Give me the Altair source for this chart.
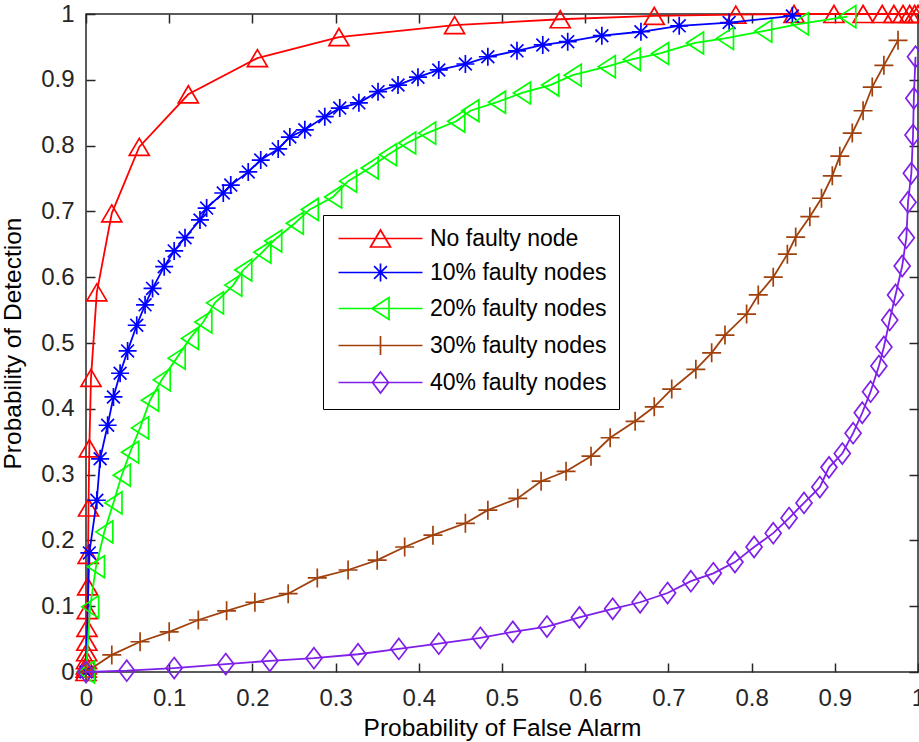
import altair as alt
import pandas as pd

# ---------------- data ----------------
series_names = ["No faulty node", "10% faulty nodes", "20% faulty nodes",
                "30% faulty nodes", "40% faulty nodes"]
series_colors = ["#FF0000", "#0000FF", "#00FF00", "#A0410D", "#7F1FE8"]

red_x = [0, 0.0002, 0.0004, 0.0006, 0.0008, 0.001, 0.0012, 0.0015, 0.002, 0.0025,
         0.003, 0.004, 0.006, 0.013, 0.031, 0.064, 0.123, 0.206, 0.304, 0.443,
         0.570, 0.683, 0.781, 0.851, 0.899, 0.934, 0.957, 0.971, 0.982, 0.990,
         0.996, 1.0]
red_y = [0, 0.005, 0.010, 0.018, 0.030, 0.046, 0.067, 0.094, 0.130, 0.178,
         0.250, 0.340, 0.447, 0.577, 0.697, 0.798, 0.878, 0.933, 0.965, 0.983,
         0.992, 0.997, 0.999, 1.0, 1.0, 1.0, 1.0, 1.0, 1.0, 1.0,
         1.0, 1.0]

blue_x = [0, 0.004, 0.013, 0.017, 0.026, 0.033, 0.041, 0.050, 0.061, 0.071,
          0.080, 0.094, 0.106, 0.119, 0.137, 0.145, 0.165, 0.174, 0.195, 0.210,
          0.231, 0.245, 0.263, 0.287, 0.305, 0.328, 0.351, 0.375, 0.399, 0.424,
          0.456, 0.483, 0.518, 0.549, 0.579, 0.620, 0.667, 0.713, 0.773, 0.849]
blue_y = [0, 0.181, 0.261, 0.324, 0.375, 0.418, 0.454, 0.488, 0.527, 0.558,
          0.583, 0.616, 0.640, 0.660, 0.687, 0.705, 0.728, 0.740, 0.760, 0.778,
          0.795, 0.813, 0.824, 0.844, 0.857, 0.865, 0.882, 0.892, 0.904, 0.915,
          0.924, 0.935, 0.944, 0.953, 0.958, 0.967, 0.973, 0.982, 0.987, 0.997]

green_x = [0, 0.005, 0.012, 0.022, 0.033, 0.043, 0.053, 0.065, 0.077, 0.091,
           0.109, 0.125, 0.141, 0.155, 0.177, 0.189, 0.212, 0.225, 0.251, 0.269,
           0.297, 0.315, 0.341, 0.363, 0.386, 0.410, 0.445, 0.462, 0.494, 0.524,
           0.558, 0.585, 0.626, 0.656, 0.690, 0.732, 0.768, 0.814, 0.858, 0.915]
green_y = [0, 0.099, 0.160, 0.213, 0.257, 0.299, 0.334, 0.371, 0.413, 0.444,
           0.477, 0.507, 0.532, 0.561, 0.588, 0.611, 0.638, 0.655, 0.682, 0.703,
           0.722, 0.746, 0.766, 0.786, 0.804, 0.819, 0.837, 0.853, 0.866, 0.880,
           0.892, 0.907, 0.920, 0.931, 0.940, 0.956, 0.963, 0.974, 0.985, 0.996]

brown_x = [0, 0.031, 0.065, 0.100, 0.135, 0.169, 0.203, 0.243, 0.278, 0.315,
           0.350, 0.383, 0.417, 0.456, 0.483, 0.519, 0.547, 0.577, 0.607, 0.630,
           0.660, 0.683, 0.704, 0.733, 0.752, 0.768, 0.794, 0.808, 0.826, 0.843,
           0.853, 0.870, 0.884, 0.897, 0.906, 0.921, 0.934, 0.945, 0.959, 0.976]
brown_y = [0, 0.026, 0.046, 0.061, 0.079, 0.093, 0.106, 0.119, 0.143, 0.155,
           0.170, 0.190, 0.208, 0.226, 0.246, 0.264, 0.290, 0.305, 0.328, 0.356,
           0.381, 0.403, 0.430, 0.460, 0.485, 0.512, 0.544, 0.573, 0.600, 0.635,
           0.661, 0.692, 0.720, 0.754, 0.784, 0.819, 0.853, 0.889, 0.922, 0.960]

purple_x = [0, 0.049, 0.106, 0.168, 0.221, 0.274, 0.327, 0.376, 0.424, 0.474,
            0.513, 0.554, 0.593, 0.633, 0.666, 0.699, 0.727, 0.754, 0.780, 0.803,
            0.826, 0.845, 0.863, 0.882, 0.893, 0.909, 0.922, 0.933, 0.943, 0.953,
            0.959, 0.966, 0.973, 0.981, 0.986, 0.988, 0.992, 0.994, 0.995, 0.997]
purple_y = [0, 0.002, 0.006, 0.012, 0.017, 0.021, 0.027, 0.035, 0.043, 0.052,
            0.061, 0.069, 0.083, 0.096, 0.106, 0.120, 0.138, 0.150, 0.167, 0.190,
            0.211, 0.234, 0.257, 0.281, 0.311, 0.332, 0.363, 0.394, 0.426, 0.465,
            0.494, 0.535, 0.573, 0.617, 0.660, 0.714, 0.758, 0.816, 0.872, 0.935]

tick_values = [0, 0.1, 0.2, 0.3, 0.4, 0.5, 0.6, 0.7, 0.8, 0.9, 1]
x_title = "Probability of False Alarm"
y_title = "Probability of Detection"

all_x = [red_x, blue_x, green_x, brown_x, purple_x]
all_y = [red_y, blue_y, green_y, brown_y, purple_y]

rows = []
for name, xs_, ys_ in zip(series_names, all_x, all_y):
    for i, (a, b) in enumerate(zip(xs_, ys_)):
        rows.append({"series": name, "idx": i, "x": a, "y": b})
df = pd.DataFrame(rows)

# ---------------- styling ----------------
W, H = 832, 658
FONT = "Liberation Sans"
AX = "#262626"
FS_TICK = 24
FS_TITLE = 24.5
FS_LEG = 23

# marker shapes (unit = 10 px with size=400)
marker_paths = [
    "M0,-0.85L1,0.85L-1,0.85Z",                                         # triangle up
    "M-0.9,0L0.9,0M0,-0.9L0,0.9M-0.64,-0.64L0.64,0.64M-0.64,0.64L0.64,-0.64",  # asterisk
    "M-0.85,0L0.85,-1.1L0.85,1.1Z",                                     # triangle left
    "M-0.95,0L0.95,0M0,-0.95L0,0.95",                                   # plus
    "M0,-1.05L0.8,0L0,1.05L-0.8,0Z",                                    # diamond
]
legend_paths = ["M-4.2,0L4.2,0" + p for p in marker_paths]

xs = alt.Scale(domain=[0, 1], nice=False, zero=False)
ys = alt.Scale(domain=[0, 1], nice=False, zero=False)

lab_x = alt.Axis(orient="bottom", values=tick_values, format="~g", ticks=False, tickSize=0,
                 domain=False, grid=False, labelPadding=14, labelFontSize=FS_TICK,
                 labelFont=FONT, labelColor=AX, labelFlush=False, title=x_title,
                 titleFont=FONT, titleFontSize=FS_TITLE, titleFontWeight="normal",
                 titleColor="#000000", titleX=W / 2, titleY=63, titleBaseline="alphabetic")
lab_y = alt.Axis(orient="left", values=tick_values, format="~g", ticks=False, tickSize=0,
                 domain=False, grid=False, labelPadding=12, labelFontSize=FS_TICK,
                 labelFont=FONT, labelColor=AX, labelFlush=False, title=y_title,
                 titleFont=FONT, titleFontSize=FS_TITLE, titleFontWeight="normal",
                 titleColor="#000000", titleAngle=270, titleX=-66, titleY=H / 2,
                 titleBaseline="alphabetic")


def tick_axis(orient):
    return alt.Axis(orient=orient, values=tick_values, offset=-9, tickSize=9, ticks=True,
                    labels=False, domain=False, grid=False, title=None,
                    tickColor=AX, tickWidth=1.5)


axis_plan = {
    (0, "line"): (lab_x, lab_y),
    (0, "point"): (tick_axis("bottom"), tick_axis("left")),
    (1, "line"): (tick_axis("top"), tick_axis("right")),
}

base = alt.Chart(df)
layers = []
for k, name in enumerate(series_names):
    sub = base.transform_filter(alt.datum.series == name)
    ax_l = axis_plan.get((k, "line"), (None, None))
    ax_p = axis_plan.get((k, "point"), (None, None))
    line = sub.mark_line(strokeWidth=1.8, color=series_colors[k]).encode(
        x=alt.X("x:Q", scale=xs, axis=ax_l[0]),
        y=alt.Y("y:Q", scale=ys, axis=ax_l[1]),
        order="idx:Q",
    )
    pts = sub.mark_point(filled=False, shape=marker_paths[k], size=400, strokeWidth=1.7,
                         color=series_colors[k], opacity=1).encode(
        x=alt.X("x:Q", scale=xs, axis=ax_p[0]),
        y=alt.Y("y:Q", scale=ys, axis=ax_p[1]),
    )
    layers += [line, pts]

leg_props = dict(orient="none", legendX=237, legendY=201, title=None, padding=12,
                 strokeColor="#000000", fillColor="#FFFFFF", labelFont=FONT,
                 labelFontSize=FS_LEG, labelColor="#000000", symbolSize=400,
                 symbolStrokeWidth=1.7, symbolOpacity=1, symbolOffset=34,
                 labelOffset=38, rowPadding=9, labelLimit=400)

legend_layer = base.mark_point(filled=False, opacity=0).encode(
    x=alt.X("x:Q", scale=xs, axis=None),
    y=alt.Y("y:Q", scale=ys, axis=None),
    color=alt.Color("series:N", scale=alt.Scale(domain=series_names, range=series_colors),
                    legend=alt.Legend(**leg_props)),
    shape=alt.Shape("series:N", scale=alt.Scale(domain=series_names, range=legend_paths),
                    legend=alt.Legend(**leg_props)),
)
layers.append(legend_layer)

chart = alt.layer(*layers).resolve_axis(x="independent", y="independent").properties(
    width=W, height=H,
    autosize=alt.AutoSizeParams(type="none"),
    padding={"left": 86, "top": 14, "right": 1, "bottom": 70},
    background="#FFFFFF",
).configure_view(stroke=AX, strokeWidth=1.5)

chart.save("out.html", embed_options={"renderer": "svg", "actions": False})
